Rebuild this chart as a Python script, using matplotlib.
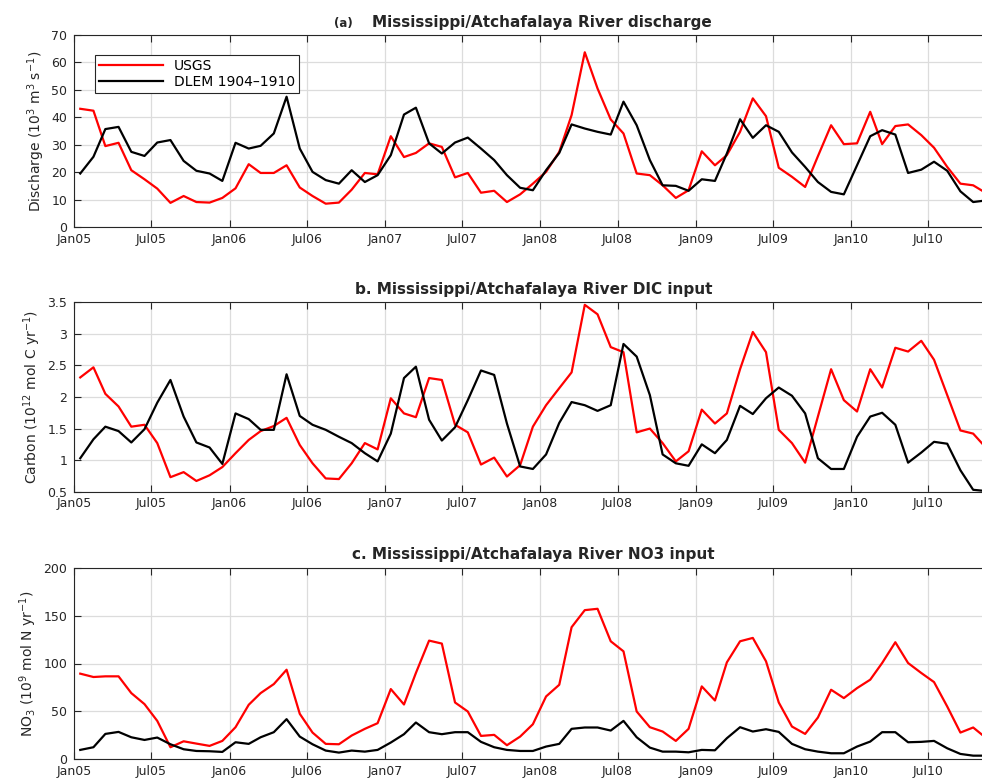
import numpy as np
import pandas as pd
import matplotlib
matplotlib.use("Agg")
import matplotlib.pyplot as plt
import matplotlib.dates as mdates

plt.rcParams["font.family"] = ["DejaVu Sans"]

# monthly series, Jan 2005 - Dec 2010, plotted at mid-month
months = pd.date_range("2005-01-01", periods=72, freq="MS") + pd.Timedelta(days=14)

discharge_usgs = [
    43.1, 42.4, 29.5, 30.7, 20.7, 17.4, 14.0, 8.8, 11.3, 9.1, 8.9, 10.6,
    14.1, 22.9, 19.7, 19.7, 22.5, 14.4, 11.3, 8.5, 8.9, 13.6, 19.7, 19.2,
    33.1, 25.5, 27.0, 30.5, 29.2, 18.1, 19.7, 12.5, 13.2, 9.1, 11.9, 15.8,
    20.1, 27.4, 40.8, 63.7, 50.5, 39.2, 34.1, 19.5, 18.9, 15.2, 10.6, 13.4,
    27.6, 22.5, 26.2, 34.7, 46.9, 40.4, 21.6, 18.3, 14.6, 25.8, 37.1, 30.2,
    30.5, 42.0, 30.2, 36.8, 37.4, 33.5, 28.9, 21.9, 15.8, 15.2, 12.3, 11.0,
]
discharge_dlem = [
    19.5, 25.6, 35.7, 36.5, 27.4, 25.9, 30.8, 31.7, 24.1, 20.5, 19.5, 16.8,
    30.7, 28.6, 29.6, 34.1, 47.5, 28.6, 20.1, 17.1, 15.8, 20.7, 16.4, 18.9,
    26.2, 41.0, 43.5, 30.5, 26.8, 30.8, 32.6, 28.6, 24.4, 18.9, 14.3, 13.4,
    20.7, 27.0, 37.4, 35.9, 34.7, 33.7, 45.7, 37.1, 24.4, 15.2, 15.0, 13.2,
    17.4, 16.8, 26.8, 39.3, 32.5, 37.1, 34.7, 27.2, 21.9, 16.4, 12.8, 11.9,
    22.5, 33.1, 35.3, 33.7, 19.7, 20.9, 23.8, 20.5, 13.0, 9.1, 9.7, 10.0,
]

dic_usgs = [
    2.31, 2.47, 2.05, 1.85, 1.53, 1.56, 1.27, 0.73, 0.81, 0.67, 0.76, 0.89,
    1.11, 1.32, 1.46, 1.54, 1.67, 1.24, 0.95, 0.71, 0.70, 0.95, 1.27, 1.17,
    1.98, 1.74, 1.68, 2.30, 2.27, 1.56, 1.44, 0.93, 1.04, 0.74, 0.92, 1.53,
    1.87, 2.14, 2.39, 3.46, 3.31, 2.79, 2.71, 1.44, 1.50, 1.27, 0.98, 1.14,
    1.80, 1.58, 1.74, 2.44, 3.03, 2.71, 1.48, 1.27, 0.96, 1.69, 2.44, 1.95,
    1.77, 2.44, 2.15, 2.78, 2.72, 2.89, 2.59, 2.03, 1.47, 1.42, 1.19, 1.10,
]
dic_dlem = [
    1.03, 1.33, 1.53, 1.46, 1.28, 1.49, 1.91, 2.27, 1.69, 1.28, 1.20, 0.94,
    1.74, 1.65, 1.48, 1.48, 2.36, 1.70, 1.56, 1.48, 1.37, 1.27, 1.11, 0.98,
    1.42, 2.30, 2.48, 1.64, 1.31, 1.52, 1.95, 2.42, 2.35, 1.58, 0.90, 0.86,
    1.09, 1.59, 1.92, 1.87, 1.78, 1.87, 2.84, 2.64, 2.03, 1.09, 0.95, 0.91,
    1.25, 1.11, 1.32, 1.86, 1.73, 1.98, 2.15, 2.02, 1.74, 1.03, 0.86, 0.86,
    1.37, 1.69, 1.75, 1.56, 0.96, 1.12, 1.29, 1.26, 0.84, 0.53, 0.51, 0.50,
]

no3_usgs = [
    89.4, 85.9, 86.6, 86.6, 69.1, 57.6, 40.1, 12.6, 18.8, 16.4, 14.0, 19.2,
    33.5, 56.9, 69.1, 78.5, 93.5, 47.5, 27.9, 16.1, 15.7, 24.8, 31.8, 37.7,
    73.3, 57.2, 90.1, 123.9, 120.8, 59.3, 49.9, 24.4, 25.5, 14.7, 23.7, 36.6,
    65.6, 77.8, 137.9, 155.7, 157.1, 123.2, 112.7, 49.9, 33.5, 29.0, 19.2, 31.8,
    76.1, 61.4, 101.2, 123.2, 126.7, 102.3, 59.3, 34.2, 26.5, 43.6, 72.6, 63.9,
    74.3, 83.1, 100.5, 122.2, 100.5, 90.1, 80.6, 55.1, 27.9, 33.2, 22.0, 20.0,
]
no3_dlem = [
    9.8, 12.6, 26.5, 28.6, 23.0, 20.2, 22.7, 15.7, 10.5, 8.7, 8.4, 7.7,
    17.8, 16.1, 23.0, 28.3, 41.9, 23.7, 15.7, 9.1, 7.0, 9.1, 8.0, 9.8,
    17.5, 26.2, 38.4, 28.3, 26.2, 28.3, 28.3, 18.2, 12.6, 9.8, 8.7, 8.7,
    13.3, 16.1, 31.8, 33.2, 33.2, 30.0, 40.1, 23.0, 12.2, 8.0, 8.0, 7.3,
    9.8, 9.4, 22.0, 33.5, 29.0, 31.4, 28.6, 16.1, 10.5, 8.0, 6.3, 6.3,
    13.3, 18.5, 28.3, 28.3, 17.8, 18.2, 19.2, 11.5, 5.6, 3.8, 3.8, 4.0,
]

panels = [
    dict(usgs=discharge_usgs, dlem=discharge_dlem, tag="(a)",
         title="Mississippi/Atchafalaya River discharge",
         ylabel=r"Discharge (10$^3$ m$^3$ s$^{-1}$)",
         ylim=(0, 70), yticks=np.arange(0, 71, 10)),
    dict(usgs=dic_usgs, dlem=dic_dlem, tag=None,
         title="b. Mississippi/Atchafalaya River DIC input",
         ylabel=r"Carbon (10$^{12}$ mol C yr$^{-1}$)",
         ylim=(0.5, 3.5), yticks=np.arange(0.5, 3.51, 0.5)),
    dict(usgs=no3_usgs, dlem=no3_dlem, tag=None,
         title="c. Mississippi/Atchafalaya River NO3 input",
         ylabel=r"NO$_3$ (10$^9$ mol N yr$^{-1}$)",
         ylim=(0, 200), yticks=np.arange(0, 201, 50)),
]

W, H = 982, 778
# axes boxes in pixels: left, top, bottom (top-origin)
boxes = [(74.3, 35, 227), (74.3, 302.3, 491.7), (74.3, 567.7, 759.3)]
x0, x1 = pd.Timestamp("2005-01-01"), pd.Timestamp("2010-12-01")
px_per_day = 0.4254
width_px = (x1 - x0).days * px_per_day
xticks = pd.date_range("2005-01-01", "2010-07-01", freq="6MS")

INK = "#262626"


def draw_panel(fig, box, p, legend=False):
    left, top, bottom = box
    ax = fig.add_axes([left / W, 1 - bottom / H, width_px / W, (bottom - top) / H])
    ax.plot(months, p["usgs"], color="#ff0000", lw=1.6, label="USGS")
    ax.plot(months, p["dlem"], color="black", lw=1.6, label="DLEM 1904\u20131910")
    ax.set_xlim(x0, x1)
    ax.set_ylim(*p["ylim"])
    ax.set_yticks(p["yticks"])
    ax.set_yticklabels([f"{v:g}" for v in p["yticks"]])
    ax.set_xticks(xticks)
    ax.xaxis.set_major_formatter(mdates.DateFormatter("%b%y"))
    ax.grid(True, color="#dcdcdc", lw=0.9)
    ax.set_axisbelow(True)
    ax.tick_params(direction="in", length=5, width=0.8, colors=INK,
                   labelsize=9, top=True, right=True)
    ax.tick_params(axis="y", pad=5)
    ax.tick_params(axis="x", pad=4)
    for s in ax.spines.values():
        s.set_color(INK)
        s.set_linewidth(0.8)

    if p["tag"]:
        t = ax.set_title(p["title"], fontsize=11, fontweight="bold", color=INK,
                         pad=6, x=0.509)
        ax.annotate(p["tag"], xy=(0, 0), xycoords=t, xytext=(-14, 0),
                    textcoords="offset points", ha="right", va="bottom",
                    fontsize=8.5, fontweight="bold", color=INK)
    else:
        ax.set_title(p["title"], fontsize=11, fontweight="bold", color=INK, pad=6)
    ax.set_ylabel(p["ylabel"], fontsize=10, color=INK, labelpad=3)

    if legend:
        leg = ax.legend(loc="upper left", bbox_to_anchor=(0.0225, 0.896),
                        borderaxespad=0, fontsize=10, handlelength=4.6,
                        frameon=True, fancybox=False, framealpha=1,
                        borderpad=0.3, labelspacing=0.15, handletextpad=0.8)
        leg.get_frame().set_edgecolor(INK)
        leg.get_frame().set_linewidth(0.8)
    return ax


def main():
    fig = plt.figure(figsize=(W / 100, H / 100), dpi=100)
    for i, (box, p) in enumerate(zip(boxes, panels)):
        draw_panel(fig, box, p, legend=(i == 0))
    fig.savefig("out.png", dpi=100)


if __name__ == "__main__":
    main()
